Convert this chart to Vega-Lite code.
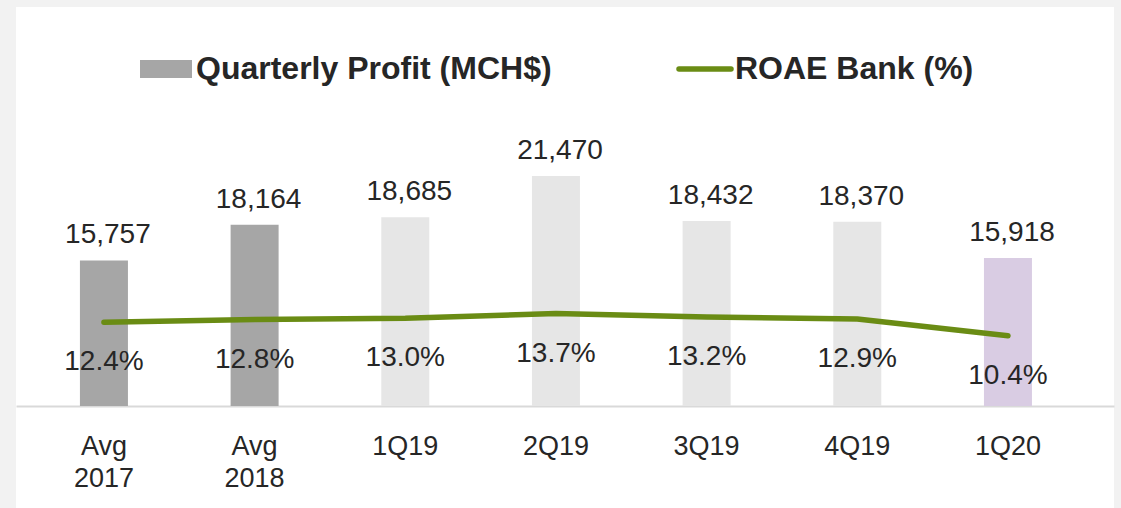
{
  "$schema": "https://vega.github.io/schema/vega-lite/v6.json",
  "width": 1098,
  "height": 501,
  "autosize": {"type": "none"},
  "padding": {"left": 16, "top": 7, "right": 7, "bottom": 0},
  "background": "#f2f2f2",
  "config": {
    "view": {"fill": "white", "stroke": null},
    "font": "Liberation Sans",
    "text": {"font": "Liberation Sans", "fontSize": 28, "fill": "#262626"}
  },
  "data": {
    "values": [
      {"period": "Avg 2017", "group": "avg", "profit": 15757, "roae": 12.4},
      {"period": "Avg 2018", "group": "avg", "profit": 18164, "roae": 12.8},
      {"period": "1Q19", "group": "quarter", "profit": 18685, "roae": 13.0},
      {"period": "2Q19", "group": "quarter", "profit": 21470, "roae": 13.7},
      {"period": "3Q19", "group": "quarter", "profit": 18432, "roae": 13.2},
      {"period": "4Q19", "group": "quarter", "profit": 18370, "roae": 12.9},
      {"period": "1Q20", "group": "latest", "profit": 15918, "roae": 10.4}
    ]
  },
  "encoding": {
    "x": {
      "field": "period",
      "type": "nominal",
      "sort": null,
      "scale": {"paddingInner": 0.6814, "paddingOuter": 0.4844, "align": 0.438},
      "axis": {
        "title": null,
        "orient": "bottom",
        "offset": -102,
        "domainColor": "#d9d9d9",
        "domainWidth": 2,
        "ticks": false,
        "tickSize": 0,
        "labelAngle": 0,
        "labelFont": "Liberation Sans",
        "labelFontSize": 27,
        "labelColor": "#262626",
        "labelPadding": 27,
        "labelBaseline": "top",
        "labelLineHeight": 32,
        "labelExpr": "split(datum.label, ' ')"
      }
    }
  },
  "layer": [
    {
      "encoding": {
        "y": {
          "field": "profit",
          "type": "quantitative",
          "scale": {"domain": [-1006, 32914], "nice": false, "zero": false},
          "axis": null
        }
      },
      "layer": [
        {
          "mark": {"type": "bar"},
          "encoding": {
            "y2": {"datum": 5900},
            "fill": {
              "field": "group",
              "type": "nominal",
              "scale": {"domain": ["avg", "quarter", "latest"], "range": ["#a6a6a6", "#e6e6e6", "#d9cce3"]},
              "legend": null
            }
          }
        },
        {
          "mark": {"type": "text", "baseline": "alphabetic", "dy": -17, "dx": 4},
          "encoding": {
            "text": {"field": "profit", "type": "quantitative", "format": ",.0f"}
          }
        }
      ]
    },
    {
      "encoding": {
        "y": {
          "field": "roae",
          "type": "quantitative",
          "scale": {"domain": [-15.1, 59.1], "nice": false, "zero": false},
          "axis": null
        }
      },
      "layer": [
        {
          "mark": {"type": "line", "strokeWidth": 5.5, "strokeCap": "round", "strokeJoin": "round"},
          "encoding": {
            "color": {
              "datum": "ROAE Bank (%)",
              "type": "nominal",
              "scale": {"domain": ["Quarterly Profit (MCH$)", "ROAE Bank (%)"], "range": ["#a6a6a6", "#6a8c14"]},
              "legend": {
                "title": null,
                "orient": "none",
                "direction": "horizontal",
                "legendX": 134,
                "legendY": 46,
                "labelFont": "Liberation Sans",
                "labelFontSize": 32,
                "labelFontWeight": "bold",
                "labelColor": "#262626",
                "labelLimit": 0,
                "labelOffset": 14,
                "columnPadding": 116,
                "symbolSize": 2704,
                "encode": {
                  "symbols": {
                    "update": {
                      "shape": {"signal": "datum.value === 'ROAE Bank (%)' ? 'M-1,0H1' : 'M-1,-0.346H1V0.346H-1Z'"},
                      "fill": {"signal": "datum.value === 'ROAE Bank (%)' ? 'transparent' : '#a6a6a6'"},
                      "stroke": {"signal": "datum.value === 'ROAE Bank (%)' ? '#6a8c14' : 'transparent'"},
                      "strokeWidth": {"signal": "datum.value === 'ROAE Bank (%)' ? 5.5 : 0"},
                      "strokeCap": {"value": "round"},
                      "opacity": {"value": 1}
                    }
                  }
                }
              }
            }
          }
        },
        {
          "transform": [{"calculate": "format(datum.roae, '.1f') + '%'", "as": "roaeLabel"}],
          "mark": {"type": "text", "baseline": "alphabetic", "dy": 48},
          "encoding": {
            "text": {"field": "roaeLabel", "type": "nominal"}
          }
        }
      ]
    }
  ],
  "resolve": {"scale": {"y": "independent"}}
}
